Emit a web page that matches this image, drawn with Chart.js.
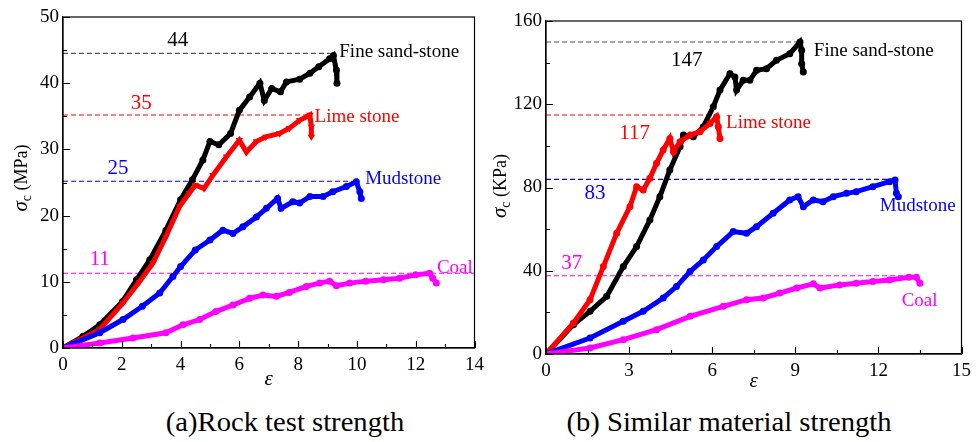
<!DOCTYPE html>
<html>
<head>
<meta charset="utf-8">
<script src="https://cdn.jsdelivr.net/npm/chart.js@4.4.1/dist/chart.umd.min.js"></script>
<style>
    body { margin: 0; background: #fff; width: 977px; height: 442px; position: relative; overflow: hidden; font-family: "Liberation Serif", "Times New Roman", serif; }
    canvas { position: absolute; top: 0; }
    #chartA { left: 0; }
    #chartB { left: 490px; }
    .cap { position: absolute; top: 409px; font-size: 27px; line-height: 27px; white-space: nowrap; color: #000; }
</style>
</head>
<body>
<canvas id="chartA" width="490" height="395"></canvas>
<canvas id="chartB" width="487" height="395"></canvas>
<div class="cap" style="left:285px;transform:translateX(-50%) scaleX(1.06)">(a)Rock test strength</div>
<div class="cap" style="left:729px;transform:translateX(-50%) scaleX(1.06)">(b) Similar material strength</div>
<script>
// (a) rock test, strain vs stress (MPa)
const sandStrainA = [0, 0.68, 1.25, 2.02, 2.5, 2.95, 3.5, 4.0, 4.4, 4.76, 5.0, 5.3, 5.7, 6.0, 6.35, 6.7, 6.85, 7.1, 7.4, 7.6, 8.05, 8.4, 8.7, 9.07, 9.2, 9.3, 9.32];
const sandStressA = [0, 1.76, 3.5, 7.0, 10.3, 13.3, 17.8, 22.4, 25.4, 28.4, 31.2, 30.7, 32.4, 35.9, 37.9, 40.0, 37.4, 39.2, 38.7, 40.2, 40.6, 41.5, 42.5, 43.7, 44.2, 42.0, 40.0];
const limeStrainA = [0, 1.25, 2.04, 2.6, 3.06, 3.5, 3.97, 4.3, 4.5, 4.8, 5.1, 5.56, 6.0, 6.24, 6.58, 6.9, 7.37, 7.7, 8.05, 8.4, 8.45, 8.45];
const limeStressA = [0, 2.8, 6.8, 10.0, 12.8, 16.8, 21.4, 23.4, 24.6, 24.1, 26.1, 28.9, 31.4, 29.6, 31.2, 31.9, 32.4, 33.2, 34.4, 35.2, 33.4, 31.9];
const mudStrainA = [0, 1.25, 2.04, 2.7, 3.29, 3.74, 4.0, 4.5, 5.0, 5.44, 5.78, 6.12, 6.58, 6.92, 7.3, 7.42, 7.82, 8.05, 8.4, 8.85, 9.18, 9.64, 9.98, 10.1, 10.15];
const mudStressA = [0, 2.3, 4.3, 6.3, 8.3, 10.8, 12.3, 14.8, 16.3, 17.8, 17.3, 18.3, 19.8, 21.1, 22.6, 21.1, 22.1, 21.9, 22.9, 22.9, 23.6, 24.4, 25.1, 23.6, 22.6];
const coalStrainA = [0, 1.25, 2.38, 3.5, 4.08, 4.65, 5.2, 5.78, 6.35, 6.8, 7.26, 7.7, 8.28, 8.73, 9.07, 9.3, 9.75, 10.3, 10.9, 11.45, 12.0, 12.47, 12.58, 12.7];
const coalStressA = [0, 0.75, 1.5, 2.3, 3.5, 4.3, 5.5, 6.5, 7.5, 8.0, 7.8, 8.4, 9.3, 9.8, 10.1, 9.4, 9.8, 10.1, 10.3, 10.55, 11.05, 11.3, 10.55, 9.8];
const peakLabelsA = ['44', '35', '25', '11'];
const peakLevelsA = [44.5, 35.2, 25.2, 11.3];
const peakEndsA = [9.1, 8.3, 10.0, 14];

// (b) similar material, strain vs stress (KPa)
const sandStrainB = [0, 0.99, 1.59, 2.19, 2.79, 3.27, 3.75, 4.11, 4.47, 4.84, 4.96, 5.32, 5.68, 6.04, 6.28, 6.64, 6.82, 6.88, 7.12, 7.36, 7.6, 7.96, 8.32, 8.8, 9.17, 9.23, 9.23, 9.29];
const sandStressB = [0, 14.1, 20.5, 27.7, 42.0, 51.6, 64.4, 75.6, 88.4, 99.6, 105.2, 104.4, 109.2, 118.8, 126.8, 134.7, 133.1, 126.8, 131.5, 131.5, 136.3, 137.1, 141.1, 144.3, 149.9, 145.9, 139.5, 135.5];
const limeStrainB = [0, 0.99, 1.59, 2.07, 2.55, 3.03, 3.27, 3.51, 3.75, 3.99, 4.23, 4.47, 4.6, 4.84, 5.2, 5.56, 5.92, 6.16, 6.22, 6.28];
const limeStressB = [0, 14.9, 26.1, 42.0, 58.0, 70.8, 80.4, 78.8, 84.4, 91.6, 98.0, 103.6, 97.2, 102.0, 105.2, 106.8, 110.8, 114.0, 109.2, 103.6];
const mudStrainB = [0, 1.59, 2.79, 3.51, 4.23, 4.71, 5.2, 5.68, 6.16, 6.76, 7.24, 7.6, 8.2, 8.8, 9.1, 9.29, 9.65, 10.0, 10.37, 10.85, 11.2, 11.8, 12.4, 12.6, 12.65, 12.72];
const mudStressB = [0, 7.7, 15.7, 20.5, 26.9, 32.4, 39.6, 45.2, 51.6, 58.8, 58.0, 61.2, 67.6, 74.0, 75.6, 70.8, 74.0, 73.2, 75.6, 77.2, 78.0, 80.4, 82.8, 83.6, 77.2, 75.6];
const coalStrainB = [0, 1.59, 2.79, 3.99, 5.2, 6.4, 7.24, 7.84, 8.44, 9.05, 9.65, 9.89, 10.6, 11.2, 11.8, 12.4, 13.1, 13.37, 13.5];
const coalStressB = [0, 2.9, 6.9, 11.7, 18.1, 22.9, 26.1, 26.9, 29.3, 31.7, 33.7, 31.7, 33.2, 34.0, 34.8, 35.6, 36.9, 36.9, 34.0];
const peakLabelsB = ['147', '117', '83', '37'];
const peakLevelsB = [149.9, 114.8, 83.9, 37.6];
const peakEndsB = [9.2, 6.1, 12.5, 13.4];

const rockNames = ['Fine sand-stone', 'Lime stone', 'Mudstone', 'Coal'];
const colors = ['#000000', '#ff0000', '#0000ff', '#ff00ff'];
const dashColors = ['#555555', '#ff0000', '#0000ff', '#ff00ff'];
const serif = '"Liberation Serif", "Times New Roman", serif';

const pts = (xs, ys) => xs.map((x, i) => ({x: x, y: ys[i]}));

// frame, inward ticks, titles and text notes
const decor = {
    id: 'decor',
    afterDraw(chart, args, opt) {
        const {ctx, chartArea: a} = chart;
        const sx = chart.scales.x, sy = chart.scales.y;
        ctx.save();
        ctx.strokeStyle = '#000';
        ctx.lineWidth = 1.2;
        ctx.strokeRect(a.left, a.top, a.right - a.left, a.bottom - a.top);

        ctx.lineWidth = 1.1;
        ctx.beginPath();
        for (let k = 0; k * opt.xMinor <= sx.max + 1e-9; k++) {
            const len = k % 2 ? 4 : 7;
            const p = Math.round(sx.getPixelForValue(k * opt.xMinor)) + 0.5;
            ctx.moveTo(p, a.bottom); ctx.lineTo(p, a.bottom - len);
        }
        for (let k = 0; k * opt.yMinor <= sy.max + 1e-9; k++) {
            const len = k % 2 ? 4 : 7;
            const p = Math.round(sy.getPixelForValue(k * opt.yMinor)) + 0.5;
            ctx.moveTo(a.left, p); ctx.lineTo(a.left + len, p);
        }
        ctx.stroke();

        ctx.textBaseline = 'middle';
        opt.notes.forEach(n => {
            ctx.fillStyle = n.color;
            ctx.font = n.size + 'px ' + serif;
            ctx.textAlign = n.align || 'left';
            ctx.fillText(n.text, sx.getPixelForValue(n.x), sy.getPixelForValue(n.y));
        });

        ctx.fillStyle = '#000';
        ctx.textAlign = 'center';
        ctx.font = 'italic 21px ' + serif;
        ctx.fillText('\u03b5', (a.left + a.right) / 2, opt.xTitleY);

        // sigma with subscript c, rotated
        const f1 = 'italic 21px ' + serif, f2 = '14px ' + serif, f3 = '18px ' + serif;
        ctx.font = f1; const w1 = ctx.measureText('\u03c3').width;
        ctx.font = f2; const w2 = ctx.measureText('c').width;
        ctx.font = f3; const w3 = ctx.measureText(' ' + opt.unit).width;
        ctx.translate(opt.yTitleX, opt.yTitleMid);
        ctx.rotate(-Math.PI / 2);
        ctx.textAlign = 'left';
        ctx.textBaseline = 'alphabetic';
        const x0 = -(w1 + w2 + w3) / 2;
        ctx.font = f1; ctx.fillText('\u03c3', x0, 0);
        ctx.font = f2; ctx.fillText('c', x0 + w1, 4);
        ctx.font = f3; ctx.fillText(' ' + opt.unit, x0 + w1 + w2, 0);
        ctx.restore();
    }
};

function makeChart(id, p) {
    const datasets = [];
    p.levels.forEach((lv, i) => {
        datasets.push({
            data: [{x: 0, y: lv}, {x: p.ends[i], y: lv}],
            showLine: true, pointRadius: 0, borderWidth: 1.1,
            borderColor: dashColors[i], borderDash: [5, 3], order: 10
        });
    });
    p.series.forEach((s, i) => {
        const tri = p.triangle === i;
        datasets.push({
            label: rockNames[i],
            data: pts(s[0], s[1]),
            showLine: true, borderWidth: 5,
            borderColor: colors[i], backgroundColor: colors[i],
            pointRadius: tri ? 4.3 : 3.5,
            pointStyle: tri ? 'triangle' : 'circle',
            rotation: tri ? 180 : 0,
            pointBorderWidth: 0, order: 4 - i
        });
    });

    new Chart(document.getElementById(id), {
        type: 'scatter',
        data: {datasets: datasets},
        options: {
            responsive: false,
            animation: false,
            layout: {padding: {top: p.top, right: p.right, left: 0, bottom: 0}},
            plugins: {
                legend: {display: false},
                tooltip: {enabled: false},
                decor: p.decor
            },
            scales: {
                x: {
                    min: 0, max: p.xMax,
                    afterFit: s => { s.height = p.xHeight; },
                    ticks: {stepSize: p.xStep, color: '#000', font: {family: serif, size: 19}, padding: 6, maxRotation: 0},
                    grid: {drawOnChartArea: false, drawTicks: false},
                    border: {color: '#000', width: 1.2}
                },
                y: {
                    min: 0, max: p.yMax,
                    afterFit: s => { s.width = p.yWidth; },
                    ticks: {stepSize: p.yStep, color: '#000', font: {family: serif, size: 19}, padding: 4},
                    grid: {drawOnChartArea: false, drawTicks: false},
                    border: {color: '#000', width: 1.2}
                }
            }
        },
        plugins: [decor]
    });
}

const notesFor = (labels, pos, namePos) => {
    const out = [];
    labels.forEach((t, i) => out.push({text: t, x: pos[i][0], y: pos[i][1], color: colors[i], size: 21, align: 'center'}));
    rockNames.forEach((t, i) => out.push({text: t, x: namePos[i][0], y: namePos[i][1], color: colors[i], size: 19}));
    return out;
};

makeChart('chartA', {
    series: [[sandStrainA, sandStressA], [limeStrainA, limeStressA], [mudStrainA, mudStressA], [coalStrainA, coalStressA]],
    levels: peakLevelsA, ends: peakEndsA, triangle: 1,
    xMax: 14, xStep: 2, yMax: 50, yStep: 10,
    top: 17, right: 15, yWidth: 63, xHeight: 47,
    decor: {
        xMinor: 1, yMinor: 5, xTitleY: 379, yTitleX: 27, yTitleMid: 178, unit: '(MPa)',
        notes: notesFor(peakLabelsA, [[3.9, 46.4], [2.66, 36.9], [1.87, 27.1], [1.25, 13.4]],
            [[9.4, 44.7], [8.56, 34.9], [10.28, 25.5], [12.72, 12.1]])
    }
});

makeChart('chartB', {
    series: [[sandStrainB, sandStressB], [limeStrainB, limeStressB], [mudStrainB, mudStressB], [coalStrainB, coalStressB]],
    levels: peakLevelsB, ends: peakEndsB, triangle: -1,
    xMax: 15, xStep: 3, yMax: 160, yStep: 40,
    top: 21, right: 15, yWidth: 56, xHeight: 41,
    decor: {
        xMinor: 1.5, yMinor: 20, xTitleY: 381, yTitleX: 16, yTitleMid: 186, unit: '(KPa)',
        notes: notesFor(peakLabelsB, [[5.08, 141.1], [3.2, 106], [1.77, 76.9], [0.93, 43.6]],
            [[9.67, 145.6], [6.5, 111.1], [12.05, 71.1], [12.84, 25.6]])
    }
});
</script>
</body>
</html>
